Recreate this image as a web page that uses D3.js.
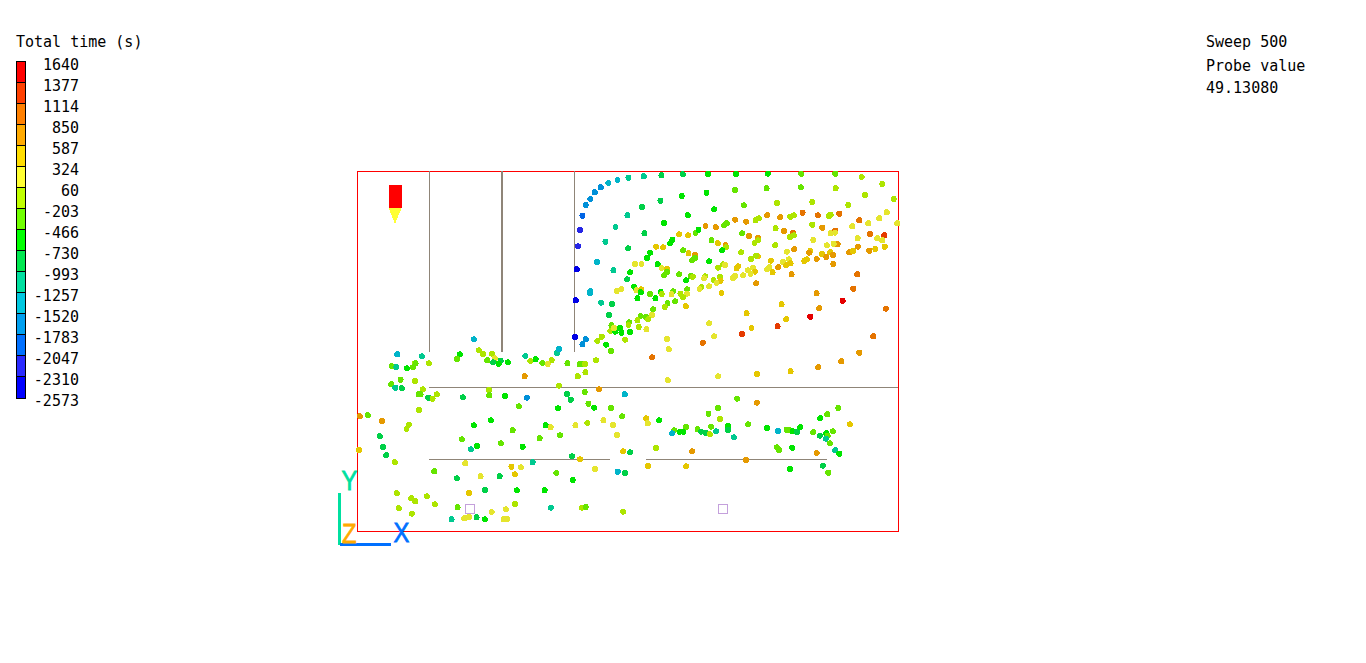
<!DOCTYPE html>
<html><head><meta charset="utf-8">
<script src="https://cdn.jsdelivr.net/npm/d3@7/dist/d3.min.js"></script>
<style>html,body{margin:0;padding:0;background:#fff;overflow:hidden}svg{display:block}</style>
</head><body><svg id="c" width="1366" height="663"></svg>
<script>
const legendLabels=[1640,1377,1114,850,587,324,60,-203,-466,-730,-993,-1257,-1520,-1783,-2047,-2310,-2573];
const legendColors=["#ff0000","#ff4000","#ff8000","#ffaa00","#ffdd00","#ffff33","#c0ff00","#70ff00","#00ff00","#00e850","#00e0a0","#00c8e0","#00a0f0","#0070ff","#2a2aff","#0000ff"];
const domainX=[0,540], domainY=[0,360];
const walls=[[71.5,179,71.5,360,1],[144,179,144,360,2],[216.5,179,216.5,360,1],[71,144,540,144,1],[71,72,252,72,1],[288,72,469,72,1]];
const probes=[[112,22],[365,22]];
const infoLines=["Sweep 500","Probe value","49.13080"];
const arcOuter=[[224.7,315.3,-1915],[228,326,-1651],[232.7,332,-1651],[237,338.7,-1651],[243,343.7,-1651],[250.7,348,-1388],[259.7,351,-1388],[270.7,353.3,-1125],[286,354.7,-1125],[303.7,355.7,-861],[325,356.7,-861],[350,357,-598],[378.3,357,-598],[410,357.3,-598],[443.3,357.3,-334],[477.3,357.3,-334],[503.7,354,-71],[524.3,347,-71],[535.7,332,-71],[539.3,307.7,192]];
const blueColumn=[[222.3,301,-2178],[220.3,284.7,-2178],[219,261.7,-2441],[218,230.7,-2441],[217.3,194,-2441],[228,191.7,-1651],[224.7,186.7,-1651]];
const arcSecond=[[269.7,315.7,-1125],[257.7,304,-1125],[247.7,289.3,-1125],[239.3,269,-1388],[232.7,240,-1388],[232.3,237.7,-1388],[243.3,228.3,-1125],[255.7,260.7,-1125],[254.3,227,-861],[251.3,216,-861],[284.3,324,-861],[302.7,330.3,-861],[324,335,-598],[348.7,338.3,-598],[377.3,341,-334],[408.7,342.7,-334],[443,343.7,-334],[477.7,342.7,-71],[507,336,-71],[528.7,318.7,192],[521.3,312.7,192]];
const arcThird=[[270.3,282.7,-861],[286.7,297.7,-861],[306.3,308,-598],[330,315.7,-598],[356.3,321.7,-598],[386,325.7,-334],[419,328,-71],[454.3,329,-71],[490.3,326,-71],[272.3,258.7,-598],[269.3,251.7,-861],[289.3,273,-598],[292.3,278.3,-598],[312.3,287.7,-598],[314.7,291.3,-598],[337.7,298,-334],[340.7,301.3,-598],[366.3,305.7,-334],[369,307.7,-334],[397.7,310.7,-71],[401,312.7,-71],[432.3,314.3,-71],[436,315.7,-71],[471,315,-71],[472.7,316.3,-71]];
const warmBand=[[321.3,296.7,455],[330.3,295.7,455],[298.3,284.3,455],[305.3,283.7,455],[277.3,267,192],[283.7,267,192],[347.7,305,718],[358,303.7,718],[377.3,311.3,718],[388.3,309.3,718],[409.3,315.7,718],[422.3,313.7,718],[444.7,318.3,982],[460,315.7,982],[481.3,317.3,982],[501.3,310.7,982],[512,297,982],[526.3,295.7,1245],[494.3,304.7,192],[510.3,307.7,192],[519.3,292.7,192],[524.3,290.7,192],[526.7,284.3,455],[517.3,282,455],[511.3,280.3,718],[500,284.3,718],[499.7,292.7,192],[491.3,278.7,718],[495,280,455],[479.7,286.7,718],[477.3,300.3,982],[472.7,297.7,192],[477,298.3,192],[464.3,303.3,718],[454.3,306.3,-71],[435.3,298.3,982],[426.3,300,718],[417.7,302.7,-71],[384.3,297.7,-334],[391.3,295,718],[400,293,718],[396.7,288,-71],[400.3,290.7,-71],[432.3,294,-71],[436,295.7,-71],[455.3,291,192],[469,285.7,192],[475.7,287.3,192],[417.3,285.7,-71],[436.3,281.7,718],[429,279.3,192],[452.3,280,455],[451.3,278.3,718],[464,277,455],[468.3,274,718],[472.3,278.7,455],[475,276,718],[458.7,272,718],[475.3,267,718],[446.3,270,455],[449,271.7,455],[431,271.7,192],[425,269,192],[432.7,267.7,455],[428.3,265.7,455],[420.3,263.7,718],[414.7,258.7,455],[413,270.3,455],[411.3,263.7,192],[409.3,261.7,192],[395.3,263.3,192],[390,260.7,192],[397,259.3,455],[392.7,257.3,192],[385.3,255.7,192],[380.3,264.7,455],[378.7,262.7,455],[377,255,192],[375,253,192],[400,274.7,455],[398,275.3,-71],[393.3,272,-71],[383.3,278.7,-71]];
const midSwarm=[[367.7,286,718],[368.3,283.7,-71],[364.3,280.7,-598],[360,287.7,455],[353.7,290.7,-334],[325.3,280.7,-334],[330.7,277.7,455],[337.3,276.3,718],[337.3,273,-334],[334.3,270.7,-334],[351.3,269.7,-598],[360.3,263.3,-71],[365.3,266.7,-71],[367,266,192],[300,266.7,-598],[303.7,263,192],[309.3,262.3,455],[309.3,259,-334],[306.3,255.7,-334],[321.3,256.7,-334],[333.3,255,-334],[335,254.3,-71],[328.3,250.7,-598],[347.3,254.7,-71],[346.3,252.7,192],[362,254.3,-71],[362.7,250.3,455],[355.7,251,-71],[358.7,248,192],[351.3,244.7,192],[343.7,244,-71],[341.7,242,192],[329.3,241.7,-334],[329.3,237.3,192],[325.3,233.7,-71],[322.7,237.3,-71],[315.3,239.7,-334],[313.7,236.7,192],[303,239,-598],[304,237,-71],[292.3,237,-334],[297.7,232.7,-598],[279.7,232.7,-598],[276.3,244.3,-598],[278.7,240.7,192],[283.3,241.7,455],[283,238.7,-598],[263.7,242,192],[259,240,192],[317.3,229.7,-334],[328,224.7,455],[309.7,227.7,-334],[307,224,-71],[295.3,221.7,-334],[294.3,216,192],[288.3,214,-334],[290.3,211.7,-71],[282.7,215,-334],[279.7,210.7,-71],[281,204,-71],[288.7,201.7,192],[272.3,199,-598],[263.7,198.3,-598],[267.3,191.3,-71],[253.7,205.7,-334],[256.3,203,-71],[262.3,203,-598],[252.7,200,-71],[257.3,199.3,-598],[256.3,203,192],[244,194.3,-71],[239.7,190,-71],[248.3,186.3,-598],[253.3,180,-334],[238.3,170.7,-71],[271.3,208.7,-334],[270.7,206,-71]];
const sparseWarm=[[363.7,238,455],[398.3,247.7,718],[433.7,256.7,718],[499.3,256.7,982],[495.3,242.3,982],[458.7,237.7,718],[423.7,226.7,455],[484.7,230.3,1508],[528,222.3,982],[461.3,222.7,718],[388.7,217.7,455],[452.3,214.3,1508],[428.3,211.7,455],[419.7,204.7,1245],[393.7,203,455],[384.3,197,1245],[356.3,194.7,192],[351.3,207.7,192],[345,188.3,982],[309.3,192,192],[311,181.7,192],[294.3,173.7,982],[515.3,194.7,982],[501.3,178.3,718],[483.3,169.7,718],[460.3,163.7,718],[432.7,159.7,455],[399.3,157,455],[360.3,154.7,192],[310,150.7,192]];
const corridorDots=[[116.3,191.7,-1388],[39.7,176.7,-1388],[64.3,174.7,-1125],[102.3,176.7,-598],[99.3,172,-334],[121.3,180.7,-71],[125.3,177,-71],[134.3,177.3,-71],[137.3,172.7,192],[143,170.3,-861],[129.7,170.7,-334],[150.3,168.7,-598],[135.5,168.7,-861],[141,167.3,-598],[167.7,175,-1125],[199.3,178,-1125],[201.3,182,-1388],[172.7,170,-71],[178,171.7,-598],[194,170.7,-71],[184.7,168,-334],[190,167,192],[209.7,167.7,-334],[222,166.7,-334],[224.3,166.7,-334],[227.3,167,-71],[57.3,167.7,-71],[71.3,167.7,-71],[34.3,164.7,-334],[38.7,164,-1125],[49.3,162.7,-598],[55.3,163.7,-334],[58,167.7,-334],[43,151.3,-334],[57.3,150,-71],[33.7,146.7,-334],[37.7,143.3,-1125],[44.3,142.7,-861],[65.3,141.7,-71],[61,136.7,-334],[63,136.7,-334],[70.7,133.3,-861],[79.3,136.7,-71],[75,132.3,-71],[61.3,121,-71],[105.3,133.7,-861],[131.3,141,-71],[131.7,135.7,-334],[147.3,135,-598],[169.3,133.3,-1651],[161.3,124.7,-334],[167,154.7,718],[220,154.7,-71],[227.7,158.7,-71],[201.3,145.3,-71],[209.3,137,-861],[227,139,-334],[213,131.3,-861],[241.3,141.7,718],[230.7,127.3,-334],[236.3,123.3,-598],[253.3,123,-334],[200.3,122.7,-598]];
const lowerDots=[[2.3,114.7,718],[10.3,115.7,-334],[24.3,110,718],[51.3,106.3,-71],[49,102,-71],[22.3,94.7,-861],[25.3,84,-861],[28.7,75.7,-861],[37.3,68.7,-71],[1.7,81,455],[116.3,105.7,-598],[133.3,110.7,-598],[155,100.7,-334],[188,105.7,-598],[193,103.7,192],[217.7,105.7,192],[229.7,108,-71],[245.7,110.7,192],[255.3,106,192],[259.3,96,192],[202.3,95.7,-334],[182,92.7,-334],[104.3,91.7,-334],[119.3,85,-598],[143.3,87.7,-334],[165,84.3,-598],[113.3,81.7,-1125],[214.3,74.7,-861],[222.3,71.7,455],[107.7,67.7,192],[175,68.7,-1125],[153.7,64.3,455],[163.3,63.7,192],[237.3,62,192],[260,59.3,-1388],[76.7,59.7,-334],[99.3,52.7,-861],[123,54.7,192],[142,54.7,-861],[157.3,56.7,455],[198.7,58,-334],[215,51,-598],[111.3,38,455],[127.3,41,-861],[159.3,40.7,-598],[187,40.7,-598],[39.3,37.7,-71],[69.3,34.7,-71],[53.7,32.7,-71],[57.7,29.7,-71],[77.3,26.7,-71],[41.3,22.7,-71],[100,23.7,-334],[54.3,17.3,-71],[134,19,192],[148.3,21.7,192],[157.3,27,-71],[193.3,23.3,-1125],[224.3,23.3,-71],[228,24,-334],[94,11.7,-1125],[106.7,12.7,192],[111.3,14,192],[119,13.7,-861],[127.3,11.7,-598],[146,11.7,192],[149.7,12.3,192],[265.3,19.3,-71]];
const rightDots=[[267,136.7,-1388],[379.3,132.3,-334],[399,128.3,718],[360.3,123,-334],[480.3,123,-334],[350.7,117.3,-334],[469.3,116.7,-334],[462.3,112.7,-598],[264.3,114.7,-334],[288.3,112.7,455],[290,107.7,192],[301.3,110.7,-598],[362.3,112,-71],[328.3,104,-334],[316.3,100.7,-334],[314.3,97.7,-1388],[322,99.3,-598],[325.7,99,-598],[339.7,101.7,-334],[343.3,99.3,-861],[348,98.3,-861],[352,96.7,-71],[353.3,104.3,-334],[358.3,99.7,-1125],[370,105,-598],[370.3,101,-861],[376,93.7,-1125],[390.3,106.7,-334],[409.3,103,-598],[420.3,100,-1388],[428.7,101.3,-334],[431.7,100.7,-334],[434.7,99.7,-598],[439,99,-861],[442.3,103.7,-598],[455.3,98.7,-334],[462,95.3,-861],[468.3,97.7,-598],[469.7,95.3,-334],[468,92.3,-1125],[475,99.7,-334],[492,106.7,455],[472,87.7,-334],[419,83.7,-334],[421,81,-334],[434.3,83.3,-598],[298.3,83,-71],[265.3,79.7,455],[272.3,78.7,-861],[334.3,79.7,718],[458.7,78,718],[477.3,80.7,-1125],[481.3,77.3,-598],[388.3,71,718],[290.3,65,455],[328.3,64.7,455],[432.3,62,-598],[465,65.3,-861],[470.3,58.3,-334],[267.3,58,-861]];
const allPoints=[arcOuter,blueColumn,arcSecond,arcThird,warmBand,midSwarm,sparseWarm,corridorDots,lowerDots,rightDots].flat();

const svg=d3.select("#c");
const x=d3.scaleLinear().domain(domainX).range([357.5,898]);
const y=d3.scaleLinear().domain(domainY).range([531,171]);
const thresholds=legendLabels.slice(1,-1).slice().reverse();
const color=d3.scaleThreshold().domain(thresholds).range(legendColors.slice().reverse());
const mono='"DejaVu Sans Mono",monospace';

// colour key
const legendY=d3.scaleBand().domain(d3.range(legendColors.length)).range([61,397.5]);
svg.append("g").selectAll("rect").data(legendColors).join("rect")
  .attr("x",16.5).attr("y",(d,i)=>legendY(i)+.5).attr("width",9).attr("height",legendY.bandwidth())
  .attr("fill",d=>d).attr("stroke","#000").attr("stroke-width",1).attr("shape-rendering","crispEdges");
svg.append("g").selectAll("text").data(legendLabels).join("text")
  .attr("x",79).attr("y",(d,i)=>70+i*21.01).attr("text-anchor","end")
  .attr("font-family",mono).attr("font-size",15).attr("fill","#000").text(d=>d);
svg.append("text").attr("x",16).attr("y",47).attr("font-family",mono).attr("font-size",15).text("Total time (s)");
svg.append("g").selectAll("text").data(infoLines).join("text")
  .attr("x",1206).attr("y",(d,i)=>[47,71,93][i]).attr("font-family",mono).attr("font-size",15).text(d=>d);

// frame and walls
svg.append("rect").attr("x",357.5).attr("y",171.5).attr("width",541).attr("height",359.5)
  .attr("fill","none").attr("stroke","#f00").attr("shape-rendering","crispEdges");
svg.append("g").selectAll("line").data(walls).join("line")
  .attr("x1",d=>x(d[0])).attr("y1",d=>y(d[1])).attr("x2",d=>x(d[2])).attr("y2",d=>y(d[3]))
  .attr("stroke","#8f8578").attr("stroke-width",d=>d[4]).attr("shape-rendering","crispEdges");

// probes
svg.append("g").selectAll("rect").data(probes).join("rect")
  .attr("x",d=>x(d[0])-4.5).attr("y",d=>y(d[1])-4.5).attr("width",9.5).attr("height",9)
  .attr("fill","none").attr("stroke","#c4a0dc").attr("shape-rendering","crispEdges");

// fire marker
svg.append("rect").attr("x",x(31)).attr("y",y(346)).attr("width",13).attr("height",23).attr("fill","#f00").attr("shape-rendering","crispEdges");
svg.append("path").attr("d",d3.line()([[x(31),y(323)],[x(44),y(323)],[x(37.5),y(307)]])+"Z").attr("fill","#ffff33").attr("shape-rendering","crispEdges");

// particles
svg.append("g").selectAll("circle").data(allPoints).join("circle")
  .attr("cx",d=>x(d[0])).attr("cy",d=>y(d[1])).attr("r",3)
  .attr("fill",d=>d3.color(color(d[2])).darker(.3)).attr("shape-rendering","crispEdges");

// axis triad
svg.append("rect").attr("x",338).attr("y",493).attr("width",3).attr("height",52).attr("fill","#00e0a0");
svg.append("rect").attr("x",340).attr("y",543).attr("width",51).attr("height",3).attr("fill","#0070ff");
const sans='"Liberation Sans",Arial,sans-serif';
[["Y",341.5,490,"#00e0a0"],["Z",342,543,"#ffaa00"],["X",393.5,542,"#0070ff"]].forEach(t=>{
  svg.append("text").attr("transform",`translate(${t[1]},${t[2]}) scale(.85,1)`).attr("font-family",sans).attr("font-size",28)
    .attr("fill",t[3]).attr("stroke",t[3]).attr("stroke-width",.8).text(t[0]);
});
</script></body></html>
